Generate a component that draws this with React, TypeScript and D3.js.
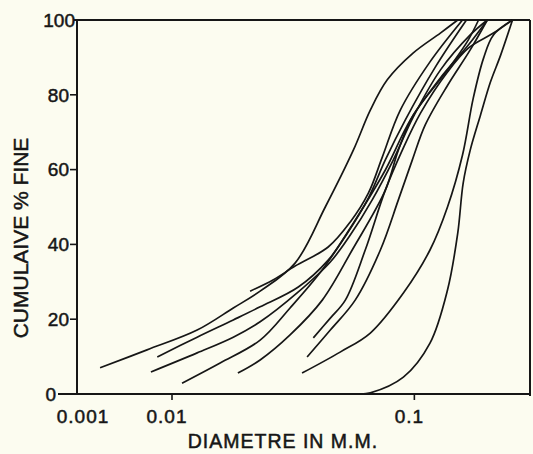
import React from 'react';
import * as d3 from 'd3';

// grain size curves, [diameter mm, cumulative % fine]
const sampleA = [[0.00175, 7.0], [0.00546, 11.8], [0.0127, 17.1], [0.0179, 23.0], [0.0231, 27.5], [0.0322, 35.0], [0.0429, 50.0], [0.056, 65.2], [0.0658, 75.9], [0.0773, 84.0], [0.099, 91.2], [0.128, 96.5], [0.151, 100]];
const sampleB = [[0.007, 9.9], [0.0127, 15.2], [0.0179, 19.8], [0.0231, 23.3], [0.0332, 28.6], [0.0441, 35.8], [0.0529, 43.0], [0.0646, 52.4], [0.0759, 62.6], [0.0918, 73.3], [0.122, 87.4], [0.164, 100]];
const sampleC = [[0.006, 5.9], [0.0127, 11.0], [0.0179, 15.2], [0.0231, 19.3], [0.0332, 27.3], [0.045, 35.3], [0.0544, 42.5], [0.067, 51.9], [0.0819, 62.6], [0.099, 74.1], [0.128, 86.6], [0.17, 96.0], [0.2, 100]];
const sampleD = [[0.011, 2.9], [0.0158, 8.3], [0.0231, 14.4], [0.0307, 23.0], [0.0417, 33.2], [0.0554, 45.2], [0.0759, 59.9], [0.0963, 73.3], [0.128, 84.5], [0.167, 93.3], [0.2, 100]];
const sampleE = [[0.0187, 5.6], [0.0231, 9.1], [0.0307, 15.8], [0.0417, 25.1], [0.0554, 38.5], [0.0759, 54.5], [0.0859, 65.2], [0.099, 74.6], [0.137, 86.6], [0.167, 94.7], [0.184, 100]];
const sampleF = [[0.021, 27.5], [0.0261, 30.5], [0.0322, 34.2], [0.0441, 39.3], [0.0544, 46.0], [0.0646, 53.7], [0.0738, 63.4], [0.0875, 75.9], [0.116, 88.8], [0.158, 100]];
const sampleG = [[0.0383, 15.0], [0.045, 20.3], [0.0519, 25.1], [0.0627, 38.5], [0.0759, 54.5], [0.0892, 65.2], [0.106, 75.1], [0.137, 86.1], [0.167, 92.5], [0.212, 96.5], [0.254, 100]];
const sampleH = [[0.0361, 9.9], [0.045, 17.1], [0.057, 25.1], [0.0724, 38.5], [0.0859, 51.9], [0.0981, 62.6], [0.111, 72.0], [0.137, 82.5], [0.17, 92.0], [0.2, 100]];
const sampleJ = [[0.0344, 5.6], [0.0494, 11.2], [0.0658, 16.3], [0.0901, 27.0], [0.116, 38.5], [0.137, 50.0], [0.158, 63.9], [0.175, 79.1], [0.193, 89.8], [0.212, 96.0], [0.254, 100]];
const sampleK = [[0.0598, 0], [0.0658, 0.3], [0.0901, 4.5], [0.116, 13.6], [0.137, 27.8], [0.151, 43.0], [0.159, 56.4], [0.17, 65.2], [0.1875, 74.6], [0.206, 83.4], [0.227, 90.6], [0.254, 100]];

const samples = [sampleA, sampleB, sampleC, sampleD, sampleE, sampleF, sampleG, sampleH, sampleJ, sampleK];

const xTicks = [0.001, 0.01, 0.1];
const xTickLabels = ['0.001', '0.01', '0.1'];
const yTicks = [0, 20, 40, 60, 80, 100];

const W = 533, H = 454;
const left = 77, right = 530, top = 20, bottom = 394;

// the printed log axis is not evenly spaced, so use a piecewise log scale
const x = d3.scaleLog().domain([0.001, 0.01, 0.3]).range([left, 172, right]);
const y = d3.scaleLinear().domain([0, 100]).range([bottom, top]);

const line = d3
  .line<number[]>()
  .x(d => x(d[0]))
  .y(d => y(d[1]))
  .curve(d3.curveCatmullRom.alpha(0.5));

const font = '"Liberation Sans", Arial, sans-serif';
const ink = '#161616';

export default function App() {
  return (
    <svg width={W} height={H} style={{ position: 'absolute', left: 0, top: 0 }} fontFamily={font}>
      <rect x={0} y={0} width={W} height={H} fill="#fcfcf0" />

      {/* frame */}
      <line x1={left - 3} x2={right} y1={top} y2={top} stroke={ink} strokeWidth={2} />
      <line x1={right} x2={right} y1={top} y2={bottom + 2} stroke={ink} strokeWidth={2} />
      <line x1={left} x2={left} y1={top} y2={bottom} stroke={ink} strokeWidth={2} />
      <line x1={left - 19} x2={right} y1={bottom} y2={bottom} stroke={ink} strokeWidth={2} />

      {/* y ticks */}
      {yTicks.map(t => (
        <g key={t}>
          {t !== 0 && t !== 100 && (
            <line x1={left - 7} x2={left} y1={y(t)} y2={y(t)} stroke={ink} strokeWidth={1.6} />
          )}
          <text
            x={t === 0 ? left - 21 : t === 100 ? left - 2 : left - 8}
            y={y(t)}
            dy="0.36em"
            textAnchor="end"
            fontSize={19}
            fill={ink}
            stroke={ink}
            strokeWidth={0.5}
          >
            {t}
          </text>
        </g>
      ))}

      {/* x ticks */}
      {xTicks.map((t, i) => (
        <g key={t}>
          {i > 0 && <line x1={x(t)} x2={x(t)} y1={bottom} y2={bottom + 6} stroke={ink} strokeWidth={1.6} />}
          <text
            x={x(t) + (i === 0 ? 6 : -5)}
            y={423}
            textAnchor="middle"
            fontSize={19}
            letterSpacing={1}
            fill={ink}
            stroke={ink}
            strokeWidth={0.5}
          >
            {xTickLabels[i]}
          </text>
        </g>
      ))}

      {/* curves */}
      {samples.map((s, i) => (
        <path key={i} d={line(s) || ''} fill="none" stroke={ink} strokeWidth={1.7} />
      ))}

      <text x={283} y={448} textAnchor="middle" fontSize={19.5} letterSpacing={1} fill={ink} stroke={ink} strokeWidth={0.5}>
        DIAMETRE IN M.M.
      </text>
      <text
        transform="translate(28,238) rotate(-90)"
        textAnchor="middle"
        fontSize={21}
        fill={ink}
        stroke={ink}
        strokeWidth={0.5}
      >
        CUMULAIVE % FINE
      </text>
    </svg>
  );
}
